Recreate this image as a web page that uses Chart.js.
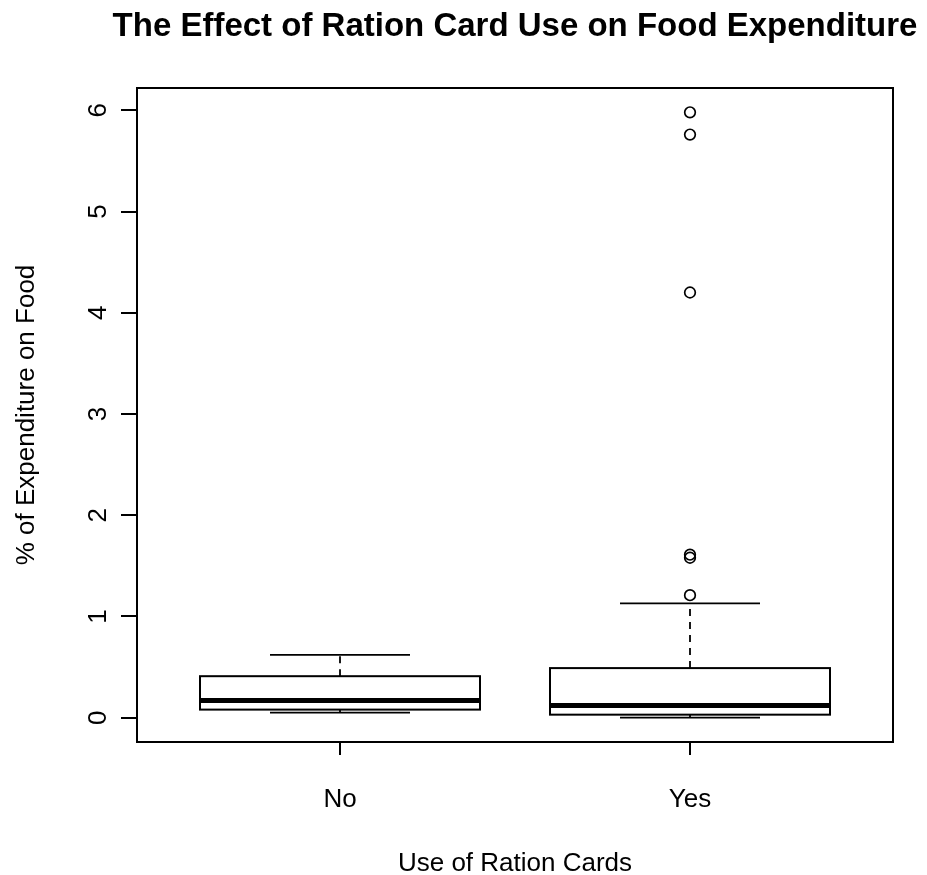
<!DOCTYPE html>
<html>
<head>
<meta charset="utf-8">
<script src="https://cdn.jsdelivr.net/npm/chart.js@4"></script>
<style>
  html, body { margin: 0; padding: 0; background: #fff; }
  canvas { display: block; }
</style>
</head>
<body>
<canvas id="chart" width="927" height="875"></canvas>
<script>
// Five-number summaries per group (% of expenditure on food)
const groups = ['No', 'Yes'];
const lowerWhisker = [0.05, 0.00];
const lowerHinge = [0.08, 0.03];
const medians = [0.17, 0.12];
const upperHinge = [0.41, 0.49];
const upperWhisker = [0.62, 1.13];

// Points beyond the whiskers (group position, value)
const outlierGroup = [2, 2, 2, 2, 2, 2];
const outlierValues = [1.21, 1.58, 1.61, 4.20, 5.76, 5.98];

// Axis tick values
const yTickValues = [0, 1, 2, 3, 4, 5, 6];

const chartTitle = 'The Effect of Ration Card Use on Food Expenditure';

const FONT = "'Liberation Sans', Arial, sans-serif";
const INK = '#000';
const BOX_WIDTH = 0.8;
const CAP_WIDTH = 0.4;

// Draws boxes, whiskers, caps and medians through the chart's scales,
// then the plot frame and a title centred over the plot region
const boxPlotter = {
  id: 'boxPlotter',
  beforeDatasetsDraw(chart) {
    const { ctx, scales: { x, y } } = chart;
    ctx.save();
    ctx.strokeStyle = INK;
    groups.forEach((g, i) => {
      const pos = i + 1;
      const cx = x.getPixelForValue(pos);
      const bl = x.getPixelForValue(pos - BOX_WIDTH / 2);
      const br = x.getPixelForValue(pos + BOX_WIDTH / 2);
      const cl = x.getPixelForValue(pos - CAP_WIDTH / 2);
      const cr = x.getPixelForValue(pos + CAP_WIDTH / 2);
      const yLoW = y.getPixelForValue(lowerWhisker[i]);
      const yQ1 = y.getPixelForValue(lowerHinge[i]);
      const yMed = y.getPixelForValue(medians[i]);
      const yQ3 = y.getPixelForValue(upperHinge[i]);
      const yHiW = y.getPixelForValue(upperWhisker[i]);

      // dashed whiskers
      ctx.lineWidth = 1.8;
      ctx.setLineDash([7, 6]);
      ctx.beginPath();
      ctx.moveTo(cx, yQ3); ctx.lineTo(cx, yHiW);
      ctx.moveTo(cx, yQ1); ctx.lineTo(cx, yLoW);
      ctx.stroke();
      ctx.setLineDash([]);

      // staples
      ctx.beginPath();
      ctx.moveTo(cl, yHiW); ctx.lineTo(cr, yHiW);
      ctx.moveTo(cl, yLoW); ctx.lineTo(cr, yLoW);
      ctx.stroke();

      // box
      ctx.fillStyle = '#fff';
      ctx.fillRect(bl, yQ3, br - bl, yQ1 - yQ3);
      ctx.lineWidth = 2;
      ctx.strokeRect(bl, yQ3, br - bl, yQ1 - yQ3);

      // median
      ctx.lineWidth = 5;
      ctx.beginPath();
      ctx.moveTo(bl, yMed); ctx.lineTo(br, yMed);
      ctx.stroke();
    });
    ctx.restore();
  },
  afterDraw(chart) {
    const { ctx, chartArea: a } = chart;
    ctx.save();
    ctx.strokeStyle = INK;
    ctx.lineWidth = 2;
    ctx.strokeRect(a.left, a.top, a.right - a.left, a.bottom - a.top);

    ctx.fillStyle = INK;
    ctx.font = 'bold 33px ' + FONT;
    ctx.textAlign = 'center';
    ctx.textBaseline = 'middle';
    ctx.fillText(chartTitle, (a.left + a.right) / 2, 27);
    ctx.restore();
  }
};

new Chart(document.getElementById('chart'), {
  type: 'scatter',
  data: {
    datasets: [{
      label: 'Outliers',
      data: outlierValues.map((v, i) => ({ x: outlierGroup[i], y: v })),
      pointStyle: 'circle',
      pointRadius: 5.3,
      pointHoverRadius: 5.3,
      pointBorderWidth: 1.7,
      pointBorderColor: INK,
      pointBackgroundColor: 'rgba(0,0,0,0)'
    }]
  },
  options: {
    responsive: false,
    animation: false,
    events: [],
    layout: { padding: { top: 88, right: 34, bottom: 0, left: 0 } },
    plugins: {
      legend: { display: false },
      tooltip: { enabled: false },
      title: { display: false }
    },
    scales: {
      x: {
        type: 'linear',
        min: 0.42,
        max: 2.58,
        afterBuildTicks: s => { s.ticks = groups.map((g, i) => ({ value: i + 1 })); },
        afterFit: s => { s.height = 133; },
        ticks: {
          callback: v => groups[v - 1],
          color: INK,
          font: { family: FONT, size: 26 },
          padding: 29,
          maxRotation: 0,
          autoSkip: false
        },
        grid: { drawOnChartArea: false, drawTicks: true, tickLength: 13, color: INK, lineWidth: 2 },
        border: { display: false },
        title: {
          display: true,
          text: 'Use of Ration Cards',
          color: INK,
          font: { family: FONT, size: 26, lineHeight: 0.85 },
          padding: { top: 0, bottom: 0 }
        }
      },
      y: {
        type: 'linear',
        min: -0.24,
        max: 6.22,
        afterBuildTicks: s => { s.ticks = yTickValues.map(v => ({ value: v })); },
        afterFit: s => { s.width = 137; },
        ticks: {
          color: INK,
          font: { family: FONT, size: 26 },
          minRotation: 90,
          maxRotation: 90,
          crossAlign: 'center',
          padding: 15
        },
        grid: { drawOnChartArea: false, drawTicks: true, tickLength: 16, color: INK, lineWidth: 2 },
        border: { display: false },
        title: {
          display: true,
          text: '% of Expenditure on Food',
          color: INK,
          font: { family: FONT, size: 26, lineHeight: 1 },
          padding: { top: 14, bottom: 0 }
        }
      }
    }
  },
  plugins: [boxPlotter]
});
</script>
</body>
</html>
